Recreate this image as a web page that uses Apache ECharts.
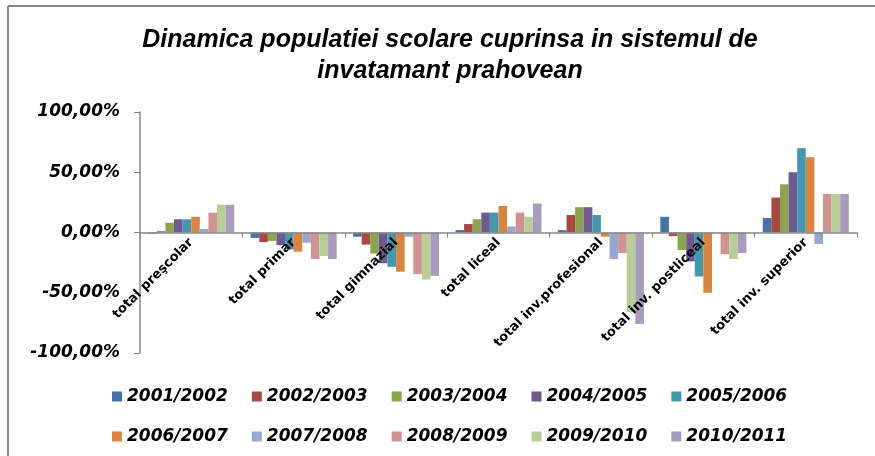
<!DOCTYPE html>
<html>
<head>
<meta charset="utf-8">
<script src="https://cdn.jsdelivr.net/npm/echarts@6/dist/echarts.min.js"></script>
<style>
  html, body { margin: 0; padding: 0; background: #fff; }
  #chart { width: 875px; height: 456px; }
</style>
</head>
<body>
<div id="chart"></div>
<script>
// categorii
const categories = [
  "total preşcolar", "total primar", "total gimnazial", "total liceal",
  "total inv.profesional", "total inv. postliceal", "total inv. superior"
];
const years = [
  "2001/2002", "2002/2003", "2003/2004", "2004/2005", "2005/2006",
  "2006/2007", "2007/2008", "2008/2009", "2009/2010", "2010/2011"
];
const colors = [
  "#4572A7", "#AA4643", "#89A54E", "#71588F", "#4198AF",
  "#DB843D", "#93A9CF", "#D19392", "#B9CD96", "#A99BBD"
];
// valori (%) pe an, in ordinea categoriilor
const v2001 = [-1, -4.5, -3.5, 2, 2, 13, 12];
const v2002 = [1, -8, -10, 7, 14.5, -3, 29];
const v2003 = [8, -7, -17.5, 11, 21, -14.5, 40];
const v2004 = [11, -10.5, -25.5, 16.5, 21, -24, 50];
const v2005 = [11, -14, -28.5, 16.5, 14.5, -36.5, 70];
const v2006 = [13, -16, -32.5, 22, -3.5, -50, 62.5];
const v2007 = [3, -8.5, -3.5, 5, -22, -0.5, -9.5];
const v2008 = [16.5, -22, -34.5, 16.5, -17, -18, 32];
const v2009 = [23, -19.5, -39, 13, -66, -22, 32];
const v2010 = [23, -22, -36, 24, -76, -17, 32];
const values = [v2001, v2002, v2003, v2004, v2005, v2006, v2007, v2008, v2009, v2010];

const chart = echarts.init(document.getElementById("chart"));

const series = years.map((y, i) => ({
  name: y,
  type: "bar",
  data: values[i],
  itemStyle: { color: colors[i] },
  barGap: "0%",
  barCategoryGap: "16%"
}));

const legendText = {
  fontFamily: "DejaVu Sans",
  fontWeight: "bold",
  fontStyle: "italic",
  fontSize: 17,
  color: "#000"
};

chart.setOption({
  animation: false,
  title: {
    text: "Dinamica populatiei scolare cuprinsa in sistemul de\ninvatamant prahovean",
    left: 445,
    textAlign: "center",
    top: 20,
    textStyle: {
      fontFamily: "Liberation Sans",
      fontWeight: "bold",
      fontStyle: "italic",
      fontSize: 25,
      lineHeight: 31,
      color: "#000"
    }
  },
  legend: [
    {
      data: years.slice(0, 5),
      left: 107, top: 383,
      itemWidth: 10, itemHeight: 10, itemGap: 24,
      icon: "rect",
      textStyle: legendText
    },
    {
      data: years.slice(5),
      left: 107, top: 423,
      itemWidth: 10, itemHeight: 10, itemGap: 24,
      icon: "rect",
      textStyle: legendText
    }
  ],
  grid: { left: 140, right: 18, top: 112, bottom: 103, outerBoundsMode: "none" },
  xAxis: {
    type: "category",
    data: categories,
    offset: -120.5,
    z: 10,
    axisLine: { onZero: false, lineStyle: { color: "#868686", width: 1.5 } },
    axisTick: { show: true, length: 5, lineStyle: { color: "#868686" } },
    axisLabel: {
      rotate: 45,
      interval: 0,
      margin: 8,
      fontFamily: "DejaVu Sans",
      fontWeight: "bold",
      fontSize: 13,
      color: "#000"
    },
    splitLine: { show: false }
  },
  yAxis: {
    type: "value",
    min: -100,
    max: 100,
    interval: 50,
    axisLine: { show: true, lineStyle: { color: "#868686", width: 1.5 } },
    axisTick: { show: true, length: 6, lineStyle: { color: "#868686" } },
    splitLine: { show: false },
    axisLabel: {
      margin: 20,
      fontFamily: "DejaVu Sans",
      fontWeight: "bold",
      fontStyle: "italic",
      fontSize: 17,
      color: "#000",
      formatter: v => v.toFixed(2).replace(".", ",") + "%"
    }
  },
  graphic: [
    { type: "line", shape: { x1: 8, y1: 6, x2: 875, y2: 6 }, style: { stroke: "#888", lineWidth: 2 } },
    { type: "line", shape: { x1: 8, y1: 6, x2: 8, y2: 456 }, style: { stroke: "#888", lineWidth: 2 } }
  ],
  series: series
});
</script>
</body>
</html>
